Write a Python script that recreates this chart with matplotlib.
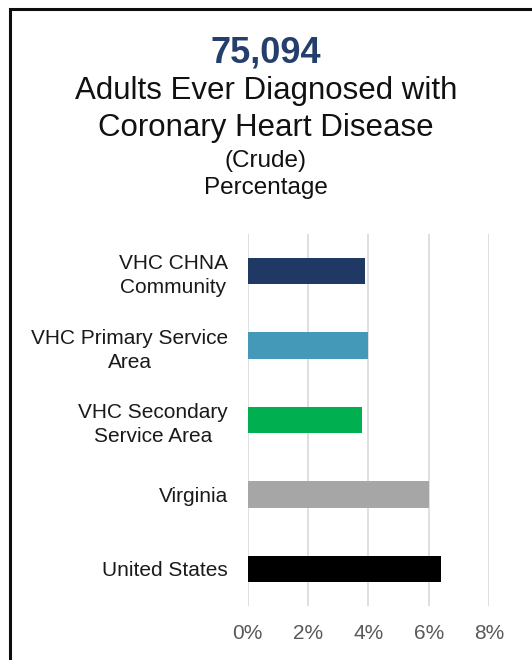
import matplotlib
matplotlib.use("Agg")
import matplotlib.pyplot as plt
from matplotlib.patches import Rectangle
from matplotlib.ticker import FuncFormatter

plt.rcParams["font.family"] = ["Liberation Sans", "DejaVu Sans"]

# =========================
# Data
# =========================
headline = "75,094"
title_lines = ["Adults Ever Diagnosed with", "Coronary Heart Disease"]
subtitle = "(Crude)"
measure = "Percentage"

categories = [
    "VHC CHNA\nCommunity",
    "VHC Primary Service\nArea",
    "VHC Secondary\nService Area",
    "Virginia",
    "United States",
]
values = [3.9, 4.0, 3.8, 6.0, 6.4]
bar_colors = ["#1F3864", "#4599B8", "#00B050", "#A6A6A6", "#000000"]
x_ticks = [0, 2, 4, 6, 8]

# =========================
# Figure
# =========================
W, H = 532, 660
fig = plt.figure(figsize=(W / 100, H / 100), dpi=100)

# outer frame (only left and top edges show in the crop)
frame = Rectangle((10 / W, -0.5), 2.0, 0.5 + (1 - 9 / H), transform=fig.transFigure,
                  fill=False, edgecolor="#0D0D0D", linewidth=2.2, clip_on=False)
fig.add_artist(frame)

# titles (baselines, in px from top)
fig.text(0.5, 1 - 63 / H, headline, ha="center", va="baseline",
         fontsize=26, fontweight="bold", color="#243F6B")
fig.text(0.5, 1 - 99 / H, title_lines[0], ha="center", va="baseline", fontsize=22.5, color="#111111")
fig.text(0.5, 1 - 136 / H, title_lines[1], ha="center", va="baseline", fontsize=22.5, color="#111111")
fig.text(0.5, 1 - 167 / H, subtitle, ha="center", va="baseline", fontsize=17.5, color="#111111")
fig.text(0.5, 1 - 194 / H, measure, ha="center", va="baseline", fontsize=17.5, color="#111111")

# =========================
# Bars
# =========================
ax = fig.add_axes([247.5 / W, 1 - 606 / H, (489.3 - 247.5) / W, (606 - 234) / H])
y = list(range(len(categories)))
ax.barh(y, values, height=0.356, color=bar_colors, zorder=3)

ax.set_xlim(0, 8)
ax.set_ylim(len(categories) - 0.5, -0.5)
ax.set_xticks(x_ticks)
ax.xaxis.set_major_formatter(FuncFormatter(lambda v, p: f"{v:.0f}%"))
ax.set_yticks(y)
ax.set_yticklabels(categories)
for lab in ax.get_yticklabels():
    lab.set_multialignment("center")
    lab.set_linespacing(1.35)

ax.grid(axis="x", color="#D9D9D9", linewidth=1.2, zorder=0)
ax.tick_params(axis="x", length=0, pad=13, labelsize=15, labelcolor="#595959")
ax.tick_params(axis="y", length=0, pad=14, labelsize=15, labelcolor="#1A1A1A")
for s in ax.spines.values():
    s.set_visible(False)

fig.savefig("out.png", dpi=100)
